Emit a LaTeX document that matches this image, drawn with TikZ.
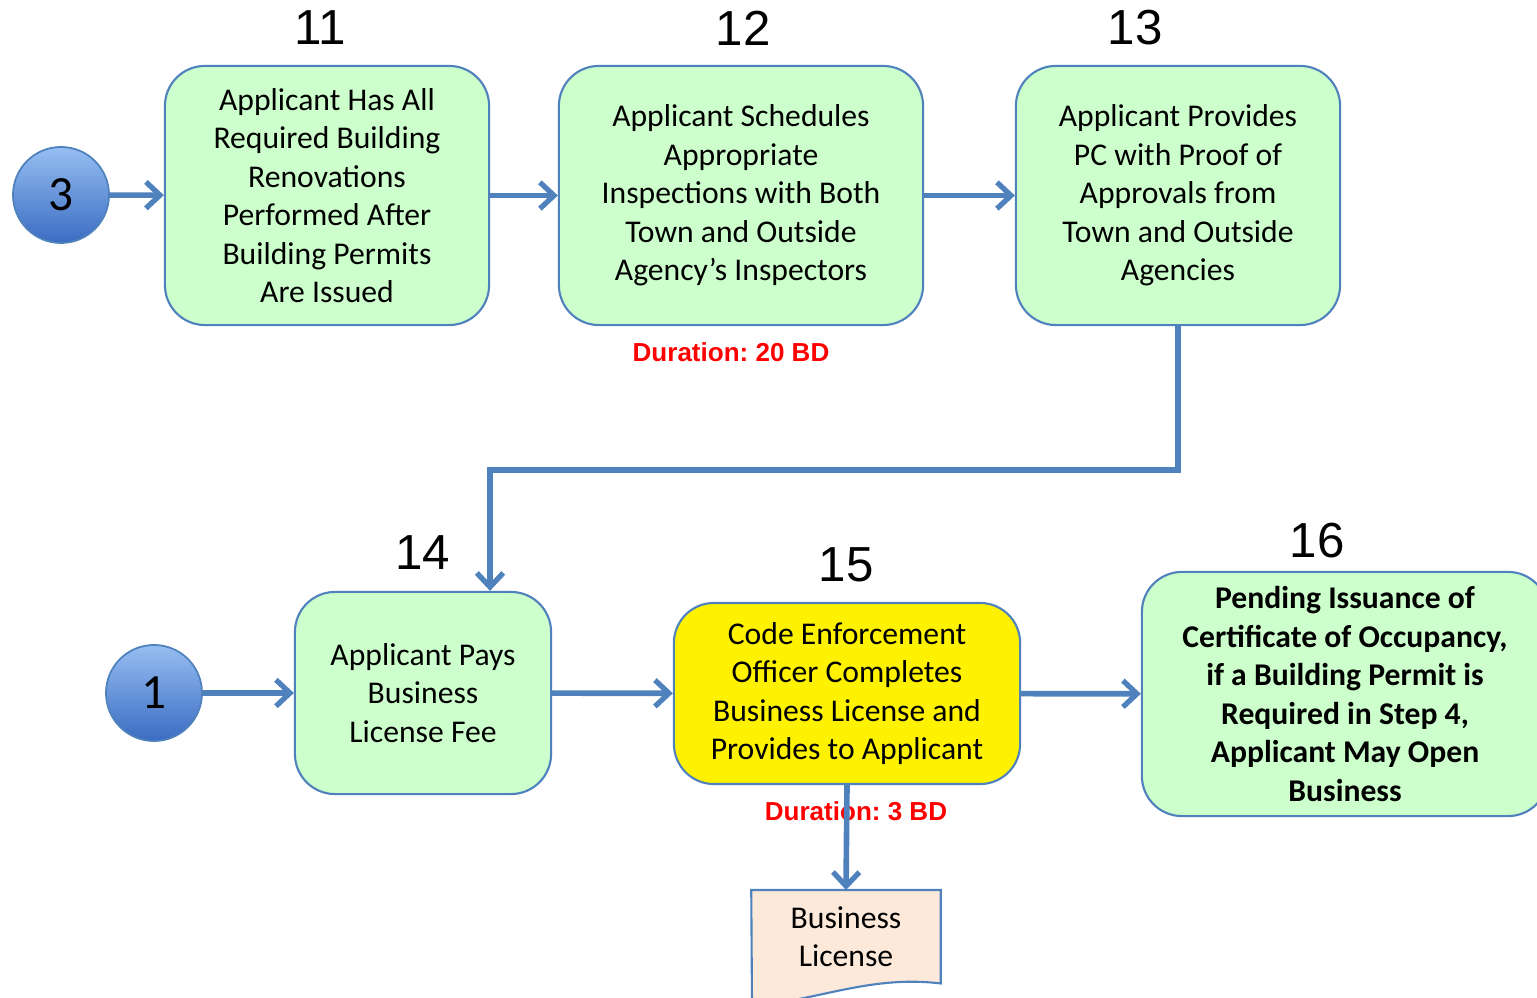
\documentclass[tikz,border=0pt]{standalone}
\usepackage{fontspec}
\setmainfont{Carlito}
\newfontfamily\arialf{Liberation Sans}
\usetikzlibrary{arrows.meta}
\definecolor{boxgreen}{RGB}{204,255,204}
\definecolor{edgeblue}{RGB}{79,129,189}
\definecolor{circtop}{RGB}{150,190,242}
\definecolor{circbot}{RGB}{58,108,194}
\definecolor{docfill}{RGB}{253,233,217}
\frenchspacing
\tikzset{
  stepbox/.style={draw=edgeblue,line width=0.6pt,fill=boxgreen,rounded corners=0.4cm,
    align=center,inner sep=0pt,font=\fontsize{9}{10.95}\selectfont},
  numlabel/.style={font=\arialf\fontsize{14}{16}\selectfont},
  durlabel/.style={font=\arialf\bfseries\fontsize{7.4}{8}\selectfont,text=red},
  conn/.style={draw=edgeblue,line width=1.6pt,
    -{Straight Barb[length=4pt,width=7.5pt,line width=1.5pt]}},
  bubble/.style={circle,draw=edgeblue,line width=0.5pt,top color=circtop,bottom color=circbot,
    minimum size=0.96cm,inner sep=0pt,font=\fontsize{14}{14}\selectfont}
}
\begin{document}
\begin{tikzpicture}[x=0.01cm,y=-0.01cm]
  \useasboundingbox (0,0) rectangle (1537,998);
  % top row
  \node[bubble] (c3) at (61,195) {3};
  \node[stepbox,minimum width=3.24cm,minimum height=2.59cm] (b11) at (327,195.5)
    {Applicant Has All\\Required Building\\Renovations\\Performed After\\Building Permits\\Are Issued};
  \node[stepbox,minimum width=3.64cm,minimum height=2.59cm] (b12) at (741,195.5)
    {Applicant Schedules\\Appropriate\\Inspections with Both\\Town and Outside\\Agency’s Inspectors};
  \node[stepbox,minimum width=3.24cm,minimum height=2.59cm] (b13) at (1178,195.5)
    {Applicant Provides\\PC with Proof of\\Approvals from\\Town and Outside\\Agencies};
  \node[numlabel] (n11) at (320,28) {11};
  \node[numlabel] (n12) at (743,28) {12};
  \node[numlabel] (n13) at (1135,28) {13};
  \node[durlabel] (d12) at (731,352) {Duration: 20 BD};
  \draw[conn] (c3) -- (b11);
  \draw[conn] (b11) -- (b12);
  \draw[conn] (b12) -- (b13);
  % bottom row
  \node[bubble] (c1) at (154,693) {1};
  \node[stepbox,minimum width=2.56cm,minimum height=2.02cm] (b14) at (423,693)
    {Applicant Pays\\Business\\License Fee};
  \node[stepbox,fill=yellow,minimum width=3.46cm,minimum height=1.81cm] (b15) at (847,693.5)
    {Code Enforcement\\Officer Completes\\Business License and\\Provides to Applicant};
  \node[stepbox,font=\bfseries\fontsize{9}{10.95}\selectfont,minimum width=4.06cm,minimum height=2.44cm] (b16) at (1345,694)
    {Pending Issuance of\\Certificate of Occupancy,\\if a Building Permit is\\Required in Step 4,\\Applicant May Open\\Business};
  \node[numlabel] (n14) at (423,553) {14};
  \node[numlabel] (n15) at (846,565) {15};
  \node[numlabel] (n16) at (1317,541) {16};
  \node[durlabel] (d15) at (856,811) {Duration: 3 BD};
  % document
  \node[minimum width=1.88cm,minimum height=0.92cm,anchor=north,inner sep=0pt,
    font=\fontsize{9}{10.95}\selectfont,align=center] (doc) at (846,890) {Business\\License};
  \draw[draw=edgeblue,fill=docfill,line width=0.6pt] (doc.north west) -- (doc.north east)
    -- (doc.south east) .. controls (870,975) and (820,1000) .. (752,1006) -- cycle;
  \node[font=\fontsize{9}{10.95}\selectfont,align=center] at (doc) {Business\\License};
  \coordinate (drop) at (490,470);
  \draw[conn] (b13.south) |- (drop) -- (b14.north -| drop);
  \draw[conn] (c1) -- (b14);
  \draw[conn] (b14) -- (b15);
  \draw[conn] (b15) -- (b16);
  \draw[conn] (b15.south) -- (doc.north);
\end{tikzpicture}
\end{document}
